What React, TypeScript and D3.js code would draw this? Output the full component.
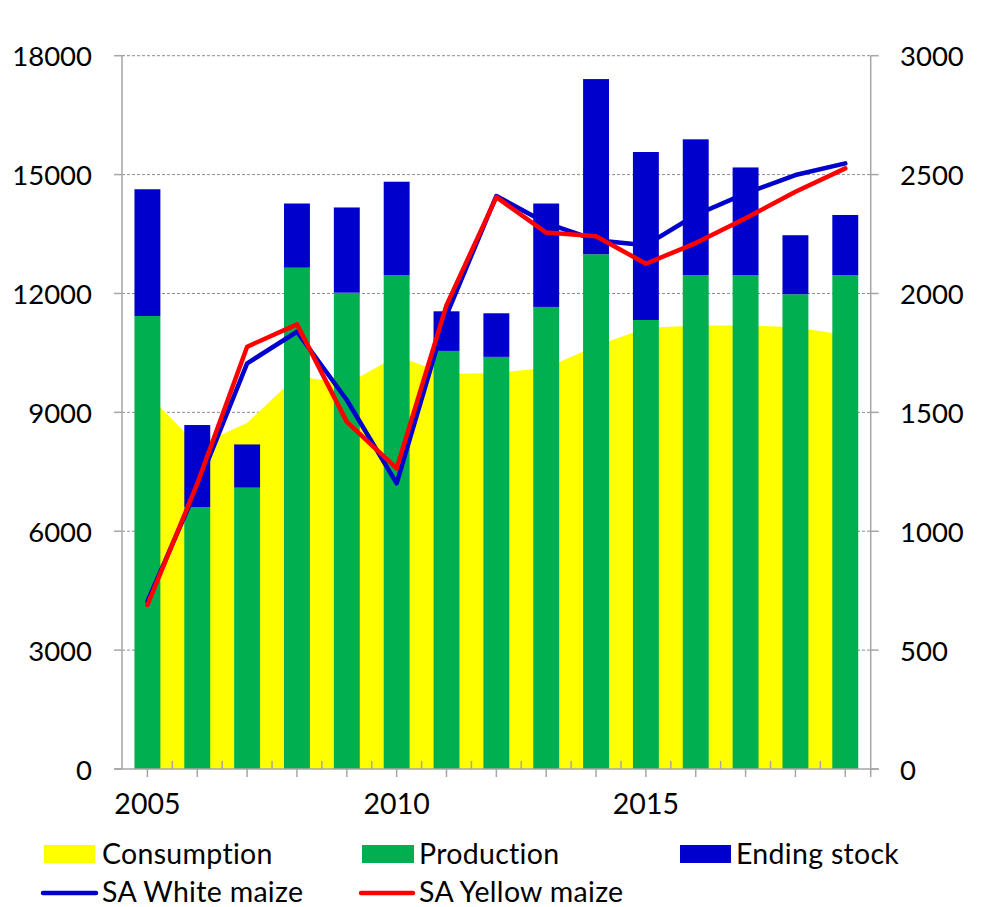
import React from "react";
import * as d3 from "d3";

const years = [2005, 2006, 2007, 2008, 2009, 2010, 2011, 2012, 2013, 2014, 2015, 2016, 2017, 2018, 2019];
const consumption = [9470, 8160, 8730, 9925, 9710, 10420, 9966, 9990, 10127, 10677, 11126, 11190, 11190, 11150, 10950];
const production = [11430, 6610, 7100, 12650, 12020, 12460, 10550, 10400, 11660, 12990, 11330, 12460, 12460, 11980, 12460];
const endingStock = [3200, 2070, 1090, 1620, 2150, 2360, 1000, 1100, 2610, 4420, 4240, 3430, 2720, 1490, 1520];
const whiteMaize = [705, 1185, 1706, 1839, 1552, 1201, 1909, 2410, 2296, 2224, 2203, 2330, 2421, 2498, 2547];
const yellowMaize = [690, 1200, 1776, 1870, 1460, 1264, 1951, 2405, 2256, 2241, 2125, 2212, 2316, 2428, 2526];
const leftTicks = [0, 3000, 6000, 9000, 12000, 15000, 18000];
const rightTicks = [0, 500, 1000, 1500, 2000, 2500, 3000];
const xLabelYears = [2005, 2010, 2015];

const FONT = "Lato, 'Open Sans', sans-serif";
const C_YELLOW = "#FFFF00";
const C_GREEN = "#00B050";
const C_BLUE = "#0000CC";
const C_RED = "#FF0000";
const AXIS = "#A6A6A6";

export default function App() {
  const W = 981, H = 907;
  const left = 122, right = 870.7, top = 55.7, bottom = 769;

  const x = d3.scaleBand<number>().domain(years).range([left, right]).paddingInner(0.48).paddingOuter(0.25);
  const cx = (yr: number) => (x(yr) as number) + x.bandwidth() / 2;
  const yL = d3.scaleLinear().domain([0, 18000]).range([bottom, top]);
  const yR = d3.scaleLinear().domain([0, 3000]).range([bottom, top]);

  const area = d3.area<number>()
    .x((_, i) => cx(years[i]))
    .y0(bottom)
    .y1((d) => yL(d))
    .curve(d3.curveLinear)(consumption) as string;

  const line = d3.line<number>()
    .x((_, i) => cx(years[i]))
    .y((d) => yR(d));

  const step = x.step();

  return (
    <svg width={W} height={H} style={{ position: "absolute", left: 0, top: 0, background: "#fff" }} fontFamily={FONT}>
      <rect x={0} y={0} width={W} height={H} fill="#fff" />
      {leftTicks.filter((t) => t > 0).map((t) => (
        <line key={t} x1={left} x2={right} y1={yL(t)} y2={yL(t)} stroke="#8c8c8c" strokeWidth={1} strokeDasharray="3,2" />
      ))}
      <path d={area} fill={C_YELLOW} />
      {years.map((yr, i) => (
        <g key={yr}>
          <rect x={x(yr)} width={x.bandwidth()} y={yL(production[i])} height={yL(0) - yL(production[i])} fill={C_GREEN} />
          <rect x={x(yr)} width={x.bandwidth()} y={yL(production[i] + endingStock[i])} height={yL(production[i]) - yL(production[i] + endingStock[i])} fill={C_BLUE} />
        </g>
      ))}
      <path d={line(whiteMaize) as string} fill="none" stroke={C_BLUE} strokeWidth={4.5} strokeLinejoin="round" strokeLinecap="round" />
      <path d={line(yellowMaize) as string} fill="none" stroke={C_RED} strokeWidth={4.5} strokeLinejoin="round" strokeLinecap="round" />
      <line x1={left} x2={left} y1={top} y2={bottom} stroke={AXIS} strokeWidth={1.5} />
      <line x1={right} x2={right} y1={top} y2={bottom + 8} stroke={AXIS} strokeWidth={1.5} />
      <line x1={left - 8} x2={right + 8} y1={bottom} y2={bottom} stroke={AXIS} strokeWidth={1.5} />
      {leftTicks.map((t) => (
        <g key={"l" + t}>
          <line x1={left - 8} x2={left} y1={yL(t)} y2={yL(t)} stroke={AXIS} strokeWidth={1.5} />
          <text x={92} y={yL(t)} textAnchor="end" dominantBaseline="central" fontSize={27.5} fill="#000">{t}</text>
        </g>
      ))}
      {rightTicks.map((t) => (
        <g key={"r" + t}>
          <line x1={right} x2={right + 8} y1={yR(t)} y2={yR(t)} stroke={AXIS} strokeWidth={1.5} />
          <text x={900} y={yR(t)} textAnchor="start" dominantBaseline="central" fontSize={27.5} fill="#000">{t}</text>
        </g>
      ))}
      {years.map((yr) => (
        <line key={"xt" + yr} x1={cx(yr)} x2={cx(yr)} y1={bottom} y2={bottom + 8} stroke={AXIS} strokeWidth={1.5} />
      ))}
      {years.slice(1).map((yr) => (
        <line key={"xm" + yr} x1={cx(yr) - step / 2} x2={cx(yr) - step / 2} y1={bottom} y2={bottom - 8} stroke={AXIS} strokeWidth={1.5} />
      ))}
      {xLabelYears.map((yr) => (
        <text key={"xl" + yr} x={cx(yr)} y={803} textAnchor="middle" dominantBaseline="central" fontSize={28.5} fill="#000">{yr}</text>
      ))}
      <g fontSize={28.5} fill="#000" letterSpacing={0.3}>
        <rect x={44} y={845} width={51} height={18} fill={C_YELLOW} />
        <text x={102} y={853} dominantBaseline="central">Consumption</text>
        <rect x={362} y={845} width={52} height={18} fill={C_GREEN} />
        <text x={419} y={853} dominantBaseline="central">Production</text>
        <rect x={680} y={845} width={51} height={18} fill={C_BLUE} />
        <text x={736} y={853} dominantBaseline="central">Ending stock</text>
        <line x1={43} x2={96} y1={893} y2={893} stroke={C_BLUE} strokeWidth={4.5} strokeLinecap="round" />
        <text x={102} y={891} dominantBaseline="central">SA White maize</text>
        <line x1={361} x2={413} y1={893} y2={893} stroke={C_RED} strokeWidth={4.5} strokeLinecap="round" />
        <text x={419} y={891} dominantBaseline="central">SA Yellow maize</text>
      </g>
    </svg>
  );
}
